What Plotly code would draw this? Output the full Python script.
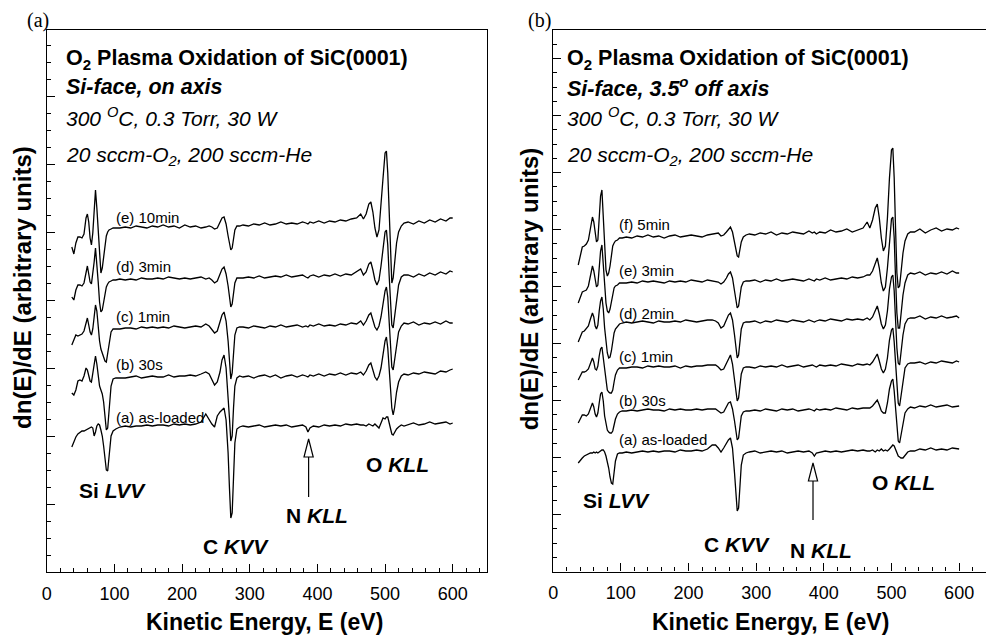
import plotly.graph_objects as go

W, H = 986, 639
SANS = "Liberation Sans, Arial, sans-serif"
SERIF = "Liberation Serif, Times New Roman, serif"

# Shared kinetic-energy sampling (eV)
energy = [37, 40, 43, 46, 49, 52, 55, 58, 60, 62, 64, 66, 68, 70, 72, 74, 76, 78, 80, 82, 84, 86, 88, 90, 92, 95, 98, 102,
          108, 116, 124, 132, 140, 148, 156, 164, 172, 180, 188, 196, 204, 212, 220, 228, 235,
          240, 244, 248, 252, 256, 259, 262, 265, 268, 270, 272, 274, 276, 278, 281, 285,
          290, 298, 306, 314, 322, 330, 338, 346, 354, 362, 370, 378, 383, 386, 389, 394, 402, 410, 418, 426, 434, 442, 450, 458, 464,
          468, 472, 476, 479, 482, 485, 488, 491, 494, 497, 500, 502, 504, 506, 508, 510, 512, 514, 517, 520, 524, 528,
          534, 542, 550, 558, 566, 574, 582, 590, 596, 600]

# ---------------- Panel (a): Si-face, on axis ----------------
left_labels = ["(a) as-loaded", "(b) 30s", "(c) 1min", "(d) 3min", "(e) 10min"]
left_offsets = [144, 194, 243, 292, 344]
left_a = ([-19, -14, -9, -6, -4, -3, -3, -2, -1, 0, 0, 1, 0, -8, -4, 2, 4, 3, -2, -8, -18, -32, -42, -43, -28, -8, -3, -1] +
          [1, 2, 1, 2, 2, 3, 2, 3, 3, 2, 4, 3, 4, 3, 4, 6, 14] +
          [8, 4, 1, 12, 16, 18, 20, 8, -25, -60, -90, -85, -50, -15, -1, 1] +
          [2, 1, 2, 3, 1, 2, 3, 2, 3, 1, 2, 3, 1, -4, 0, 2, 1, 3, 2, 3, 2, 4, 3, 4, 3] +
          [3, 2, 4, 3, 2, 4, 2, 0, 5, 10, 9, 11, 11, 5, -2, -6, -7, -4, -1, 1, 3, 2] +
          [3, 5, 3, 4, 6, 4, 5, 6, 4, 5])
left_b = ([-15, -17, -12, -3, -2, -3, 2, 10, 8, 2, -3, -4, 4, 14, 22, 14, 0, -8, -12, -16, -24, -38, -52, -50, -30, -8, -1, 0] +
          [0, 0, 1, 2, 0, 1, 2, 1, 1, 3, 1, 2, 2, 3, 2, 4, 6] +
          [4, -2, -7, -4, 6, 18, 23, 10, -15, -40, -63, -58, -30, -8, 0, 2] +
          [1, 2, 0, 2, 3, 1, 3, 0, 2, 3, 1, 3, 2, 1, 3, 2, 4, 2, 4, 3, 5, 3, 5, 4, 6] +
          [3, 7, 13, 15, 8, 1, -2, 2, 10, 24, 37, 41, 30, 10, -12, -30, -37, -30, -14, -4, 2, 4] +
          [3, 5, 4, 6, 5, 4, 7, 6, 8, 9])
left_c = ([-16, -10, -6, -7, -6, -5, -2, 7, 11, 4, -3, -6, 0, 12, 24, 18, 2, -12, -20, -24, -28, -32, -33, -24, -12, -3, 0, 0] +
          [0, 1, 1, 0, 2, 1, 2, 1, 2, 1, 3, 2, 1, 2, 3, 2, 5] +
          [3, 0, -4, -2, 6, 14, 17, 8, -12, -32, -50, -44, -22, -6, 1, 2] +
          [2, 1, 3, 2, 1, 3, 2, 4, 2, 3, 4, 2, 3, 2, 4, 3, 5, 3, 4, 3, 5, 4, 6, 5, 8] +
          [4, 8, 14, 16, 9, 2, -1, 3, 12, 26, 38, 42, 32, 8, -18, -38, -41, -32, -14, -3, 3, 6] +
          [5, 7, 4, 6, 5, 7, 5, 8, 6, 6])
left_d = ([-17, -20, -10, -5, -5, -6, -3, 10, 14, 6, -2, -4, 5, 18, 32, 18, -2, -22, -32, -30, -22, -13, -7, -4, -2, -1, 0, 0] +
          [1, 0, 1, 0, 2, 1, 1, 2, 1, 3, 2, 1, 2, 1, 2, 3, 1] +
          [2, 0, -3, -1, 5, 11, 13, 6, -6, -18, -27, -24, -12, -3, 2, 2] +
          [2, 3, 2, 4, 2, 3, 4, 3, 5, 3, 4, 5, 3, 2, 4, 5, 3, 5, 4, 6, 4, 6, 5, 8, 11] +
          [5, 8, 16, 18, 10, 0, -5, 0, 14, 32, 48, 50, 35, 5, -25, -45, -48, -38, -18, -5, 3, 5] +
          [5, 3, 6, 4, 7, 5, 8, 6, 9, 8])
left_e = ([-19, -26, -15, -9, -9, -10, -6, 10, 14, 6, -10, -17, -5, 20, 38, 20, -5, -30, -45, -40, -28, -16, -8, -4, -2, -1, 0, 0] +
          [0, 1, 0, 2, 1, 0, 2, 1, 3, 1, 2, 0, 3, 1, 2, 0, 1] +
          [2, 1, -1, 0, 6, 10, 11, 4, -8, -16, -22, -20, -10, -2, 2, 2] +
          [3, 2, 4, 3, 5, 3, 4, 6, 4, 5, 4, 6, 5, 4, 6, 5, 7, 5, 7, 6, 8, 7, 9, 10, 14] +
          [9, 14, 24, 26, 16, 0, -9, -2, 20, 50, 75, 77, 55, 10, -35, -55, -50, -35, -15, -4, 2, 5] +
          [6, 4, 7, 5, 8, 6, 9, 7, 10, 10])
left_curves = [left_a, left_b, left_c, left_d, left_e]

# ---------------- Panel (b): Si-face, 3.5 deg off axis ----------------
right_labels = ["(a) as-loaded", "(b) 30s", "(c) 1min", "(d) 2min", "(e) 3min", "(f) 5min"]
right_offsets = [118.5, 160.5, 203.5, 248.5, 288.5, 333.5]
right_a = ([-10, -7, -5, -3, -2, -1, 0, 0, 1, 0, 1, 0, 1, 2, 3, 3, 1, -3, -8, -15, -24, -30, -31, -22, -8, -1, 0, 0] +
           [1, 0, 1, 2, 1, 2, 1, 2, 2, 1, 3, 2, 2, 3, 2, 4, 8] +
           [8, 5, 1, 5, 10, 13, 15, 5, -20, -45, -58, -55, -35, -12, -2, 0] +
           [1, 2, 0, 1, 2, 1, 2, 0, 1, 2, 1, 2, 0, -3, 0, 1, 2, 1, 2, 1, 2, 3, 2, 3, 2] +
           [2, 3, 1, 3, 2, 4, 2, 3, 2, 4, 6, 8, 7, 3, -1, -3, -4, -5, -5, -2, 1, 2] +
           [2, 4, 3, 5, 3, 4, 3, 5, 4, 4])
right_b = ([-12, -8, -4, -4, -5, -3, 2, 8, 4, -3, -6, -2, 8, 17, 19, 10, -5, -14, -19, -21, -22, -22, -20, -14, -8, -3, -1, 0] +
           [0, 1, 0, 1, 2, 1, 1, 0, 2, 1, 2, 1, 1, 2, 1, 2, 2] +
           [2, 0, -2, -1, 4, 8, 9, 2, -10, -22, -29, -27, -16, -5, -1, 0] +
           [0, 1, 0, 2, 1, 0, 2, 1, 2, 0, 1, 2, 1, 0, 2, 1, 2, 1, 3, 2, 1, 3, 2, 3, 3] +
           [3, 5, 9, 11, 6, 0, -2, -2, 8, 22, 30, 32, 20, 0, -20, -30, -32, -24, -10, -2, 2, 4] +
           [3, 5, 4, 6, 4, 5, 6, 4, 5, 5])
right_c = ([-12, -8, -4, -4, -3, -1, 4, 10, 6, -1, -2, 2, 12, 19, 21, 10, -6, -16, -22, -24, -25, -25, -22, -14, -7, -2, 0, 0] +
           [0, 1, 1, 0, 2, 1, 2, 1, 1, 2, 0, 2, 1, 2, 2, 3, 3] +
           [3, 1, -2, -1, 5, 10, 13, 4, -12, -26, -33, -30, -18, -6, 0, 1] +
           [1, 0, 2, 1, 2, 1, 3, 1, 2, 3, 1, 2, 3, 2, 1, 3, 2, 3, 2, 4, 3, 2, 4, 3, 4] +
           [3, 6, 11, 14, 7, -1, -5, -1, 10, 28, 38, 40, 26, 2, -22, -35, -38, -28, -10, 0, 4, 5] +
           [5, 6, 4, 6, 5, 7, 6, 5, 7, 6])
right_d = ([-19, -13, -9, -8, -6, -3, 4, 10, 6, -3, -6, -2, 12, 22, 26, 14, -5, -20, -30, -35, -34, -28, -18, -10, -6, -4, -1, 0] +
           [1, 0, 1, 2, 1, 0, 2, 1, 1, 2, 1, 3, 2, 1, 2, 3, 3] +
           [2, 0, -5, -3, 4, 8, 10, 3, -12, -26, -35, -32, -18, -6, 0, 1] +
           [1, 2, 0, 2, 1, 3, 2, 1, 3, 2, 1, 3, 2, 1, 2, 3, 2, 4, 3, 2, 4, 3, 4, 3, 5] +
           [3, 6, 13, 17, 9, -1, -6, -2, 12, 34, 46, 48, 32, 2, -25, -40, -42, -30, -12, -1, 4, 5] +
           [5, 7, 4, 6, 5, 7, 5, 6, 7, 5])
right_e = ([-20, -14, -9, -8, -7, -3, 6, 17, 12, 2, -4, -2, 14, 32, 38, 20, -5, -20, -28, -30, -26, -18, -9, -5, -3, -2, 0, 0] +
           [0, 1, 0, 2, 1, 2, 1, 0, 2, 1, 2, 1, 3, 2, 1, 3, 2] +
           [2, 1, -1, 1, 5, 9, 11, 5, -8, -18, -25, -23, -13, -4, 1, 2] +
           [2, 3, 1, 3, 2, 4, 2, 3, 4, 3, 2, 4, 3, 2, 4, 3, 5, 3, 4, 5, 4, 6, 5, 6, 8] +
           [8, 12, 20, 25, 15, 0, -8, -4, 15, 45, 64, 66, 45, 5, -30, -45, -45, -32, -12, 0, 8, 10] +
           [9, 11, 8, 10, 9, 11, 9, 12, 10, 10])
right_f = ([-27, -18, -9, -8, -6, -2, 8, 21, 16, 4, -4, -2, 20, 42, 48, 25, -10, -32, -38, -35, -28, -18, -8, -5, -3, -2, 0, 0] +
           [1, 0, 2, 1, 3, 1, 2, 0, 2, 3, 1, 2, 3, 2, 1, 3, 4] +
           [4, 5, 2, 3, 6, 9, 11, 6, -4, -12, -18, -19, -12, -4, 1, 3] +
           [4, 3, 5, 4, 6, 3, 5, 4, 6, 5, 4, 7, 5, 6, 4, 6, 5, 8, 6, 7, 9, 6, 8, 10, 16] +
           [10, 18, 30, 34, 20, 0, -13, -8, 20, 60, 88, 90, 60, 10, -35, -50, -48, -35, -15, -3, 4, 6] +
           [6, 9, 5, 8, 10, 7, 9, 8, 10, 9])
right_curves = [right_a, right_b, right_c, right_d, right_e, right_f]

x_ticks = [0, 100, 200, 300, 400, 500, 600]
n_kll_energy = [387, 384]

fig = go.Figure()
for name, off, d in zip(left_labels, left_offsets, left_curves):
    fig.add_trace(go.Scatter(x=energy, y=[off + v for v in d], mode="lines", name=name,
                             line=dict(color="black", width=1.3), xaxis="x", yaxis="y", showlegend=False))
for name, off, d in zip(right_labels, right_offsets, right_curves):
    fig.add_trace(go.Scatter(x=energy, y=[off + v for v in d], mode="lines", name=name,
                             line=dict(color="black", width=1.3), xaxis="x2", yaxis="y2", showlegend=False))


def px(x):
    return x / W


def py(y):
    return 1 - y / H


def ann(text, x, y, size, xanchor="left", yanchor="middle", family=SANS, angle=0):
    return dict(text=text, x=px(x), y=py(y), xref="paper", yref="paper", xanchor=xanchor, yanchor=yanchor,
                showarrow=False, textangle=angle, borderpad=0, font=dict(size=size, family=family, color="black"))


annotations = []
# panel letters
annotations.append(ann("(a)", 33, 20, 20, "center", family=SERIF))
annotations.append(ann("(b)", 537, 20, 20, "center", family=SERIF))
# axis titles
annotations.append(ann("<b>Kinetic Energy, E (eV)</b>", 261, 622, 23, "center"))
annotations.append(ann("<b>Kinetic Energy, E (eV)</b>", 769, 622, 23, "center"))
annotations.append(ann("<b>dn(E)/dE (arbitrary units)</b>", 17, 287, 24, "center", angle=-90))
annotations.append(ann("<b>dn(E)/dE (arbitrary units)</b>", 527, 289, 24, "center", angle=-90))

# header text
for x0, sub in [(60, "<b><i>Si-face, on axis</i></b>"), (564, "<b><i>Si-face, 3.5<sup>o</sup> off axis</i></b>")]:
    annotations.append(ann("<b>O<sub>2</sub> Plasma Oxidation of SiC(0001)</b>", x0, 59, 21.5))
    annotations.append(ann(sub, x0, 87, 21.5))
    annotations.append(ann("<i>300 <sup>O</sup>C, 0.3 Torr, 30 W</i>", x0, 117, 21))
    annotations.append(ann("<i>20 sccm-O<sub>2</sub>, 200 sccm-He</i>", x0, 156, 21))

# curve labels
for t, y in zip(left_labels, [417, 364, 316, 266, 217]):
    annotations.append(ann(t, 111, y, 15))
for t, y in zip(right_labels, [439, 400, 356, 313, 270, 225]):
    annotations.append(ann(t, 616, y, 15))

# peak labels
for t, x, y in [("Si <i>LVV</i>", 108, 490), ("C <i>KVV</i>", 232, 546), ("N <i>KLL</i>", 314, 515), ("O <i>KLL</i>", 395, 464),
                ("Si <i>LVV</i>", 615, 500), ("C <i>KVV</i>", 736, 544), ("N <i>KLL</i>", 820, 550), ("O <i>KLL</i>", 903, 482)]:
    annotations.append(ann("<b>" + t + "</b>", x, y, 21, "center"))

# hollow arrows marking N KLL
shapes = []
for xr, yr, e, tip, base, bottom in [("x", "y", n_kll_energy[0], 133, 115, 75), ("x2", "y2", n_kll_energy[1], 108.5, 90.5, 51.5)]:
    hw = 6.8
    shapes.append(dict(type="line", xref=xr, yref=yr, x0=e, x1=e, y0=bottom, y1=base, line=dict(color="black", width=1.2)))
    shapes.append(dict(type="path", xref=xr, yref=yr, path=f"M {e} {tip} L {e - hw} {base} L {e + hw} {base} Z",
                       fillcolor="white", line=dict(color="black", width=1.2)))

common_x = dict(dtick=100, tick0=0, ticks="inside", ticklen=8, tickwidth=1.2, tickcolor="black",
                minor=dict(dtick=20, tick0=0, ticks="inside", ticklen=4, tickwidth=1, tickcolor="black"),
                showline=True, linecolor="black", linewidth=1.3, showgrid=False, zeroline=False,
                ticklabelstandoff=5,
                tickfont=dict(size=18, family=SANS, color="black"), tickvals=x_ticks)
common_y = dict(ticks="inside", ticklen=8, tickwidth=1.2, tickcolor="black", showticklabels=False,
                showline=True, linecolor="black", linewidth=1.3, showgrid=False, zeroline=False, tick0=0)

fig.update_layout(
    width=W, height=H, margin=dict(l=0, r=0, t=0, b=0),
    paper_bgcolor="white", plot_bgcolor="white", showlegend=False,
    xaxis=dict(domain=[px(42), px(484)], range=[0, 650], mirror=True, anchor="y", **common_x),
    yaxis=dict(domain=[py(572), py(30)], range=[0, 542], dtick=68, mirror=True, anchor="x",
               minor=dict(dtick=17, tick0=0, ticks="inside", ticklen=4, tickwidth=1, tickcolor="black"), **common_y),
    xaxis2=dict(domain=[px(551), 1.0], range=[0, 639.7], mirror=True, anchor="y2", **common_x),
    yaxis2=dict(domain=[py(571.5), py(30)], range=[0, 541.5], dtick=57, mirror=False, anchor="x2",
                minor=dict(dtick=14.25, tick0=0, ticks="inside", ticklen=4, tickwidth=1, tickcolor="black"), **common_y),
    annotations=annotations, shapes=shapes,
)

fig.write_html("out.html")
